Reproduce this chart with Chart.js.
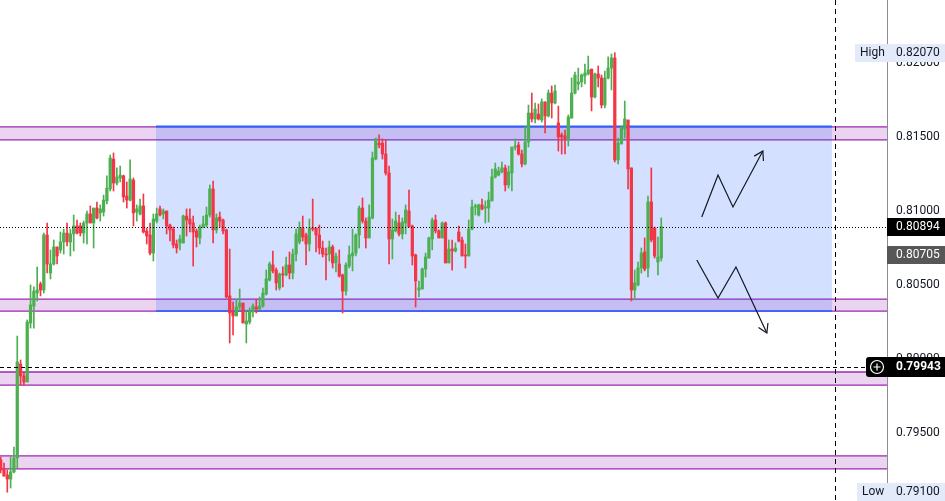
<!DOCTYPE html>
<html lang="en">
<head>
  <meta charset="UTF-8">
  <title>Price chart</title>
  <script src="https://cdn.jsdelivr.net/npm/chart.js"></script>
  <style>
    html, body {
      margin: 0;
      padding: 0;
      background: #fff;
    }
    #wrap {
      width: 945px;
      height: 501px;
      position: relative;
    }
  </style>
</head>
<body>

  <div id="wrap"><canvas id="priceChart"></canvas></div>

  <script>
    // candles (oldest first)
    const opens = [
      0.79318,0.79257,0.79216,0.79189,0.79237,0.79331,0.79966,0.79885,0.79845,0.80243,
      0.80358,0.80446,0.80507,0.80466,0.80838,0.80581,0.80642,0.80757,0.80737,0.80791,
      0.80851,0.80791,0.80845,0.80899,0.80899,0.80851,0.80919,0.80980,0.80919,0.81020,
      0.80987,0.80993,0.81068,0.81149,0.81351,0.81189,0.81223,0.81237,0.81101,0.81074,
      0.81209,0.80993,0.80980,0.81034,0.80865,0.80838,0.80716,0.80932,0.81014,0.80980,
      0.81000,0.80905,0.80878,0.80777,0.80784,0.80784,0.80966,0.80946,0.80919,0.80865,
      0.80818,0.80892,0.80905,0.80973,0.81149,0.80872,0.80959,0.80939,0.80872,0.80426,
      0.80318,0.80291,0.80351,0.80378,0.80236,0.80250,0.80318,0.80351,0.80338,0.80358,
      0.80439,0.80534,0.80635,0.80601,0.80480,0.80574,0.80568,0.80635,0.80581,0.80709,
      0.80791,0.80885,0.80838,0.80777,0.80885,0.80885,0.80838,0.80750,0.80709,0.80709,
      0.80757,0.80649,0.80642,0.80568,0.80459,0.80628,0.80696,0.80716,0.80838,0.81020,
      0.80932,0.80818,0.80953,0.81351,0.81459,0.81459,0.81385,0.81257,0.80811,0.80865,
      0.80919,0.80845,0.80919,0.81000,0.80899,0.80703,0.80466,0.80473,0.80608,0.80682,
      0.80811,0.80939,0.80865,0.80818,0.80919,0.80649,0.80743,0.80730,0.80858,0.80804,
      0.80703,0.80696,0.80878,0.81027,0.80973,0.81041,0.81020,0.81020,0.81068,0.81230,
      0.81243,0.81264,0.81291,0.81176,0.81257,0.81432,0.81446,0.81385,0.81318,0.81466,
      0.81662,0.81622,0.81655,0.81615,0.81737,0.81642,0.81797,0.81730,0.81595,0.81514,
      0.81507,0.81487,0.81628,0.81797,0.81858,0.81872,0.81912,0.81926,0.81959,0.81770,
      0.81926,0.81899,0.81716,0.81899,0.81966,0.82034,0.81345,0.81453,0.81554,0.81615,
      0.81291,0.80466,0.80500,0.80615,0.80723,0.80615,0.81061,0.80885,0.80655,0.80682
    ];
    const highs = [
      0.79338,0.79297,0.79250,0.79338,0.79405,0.80155,0.79993,0.79912,0.80264,0.80500,
      0.80487,0.80622,0.80520,0.80851,0.80919,0.80737,0.80804,0.80757,0.80858,0.80878,
      0.80919,0.80878,0.80973,0.80939,0.80919,0.80932,0.81000,0.81034,0.81020,0.81061,
      0.81041,0.81108,0.81237,0.81378,0.81392,0.81291,0.81304,0.81243,0.81196,0.81345,
      0.81223,0.81041,0.81081,0.81115,0.80885,0.80919,0.80980,0.81020,0.81034,0.81014,
      0.81000,0.80912,0.80892,0.80804,0.80838,0.80973,0.81014,0.81014,0.80966,0.80878,
      0.80905,0.80966,0.81027,0.81176,0.81203,0.80980,0.80993,0.80946,0.80878,0.80743,
      0.80385,0.80405,0.80473,0.80378,0.80331,0.80345,0.80372,0.80405,0.80419,0.80480,
      0.80601,0.80655,0.80730,0.80615,0.80581,0.80622,0.80689,0.80723,0.80743,0.80878,
      0.80926,0.80966,0.80851,0.80946,0.81081,0.80885,0.80905,0.80797,0.80750,0.80797,
      0.80770,0.80716,0.80737,0.80574,0.80649,0.80764,0.80878,0.80845,0.81034,0.81088,
      0.80953,0.81041,0.81399,0.81493,0.81514,0.81487,0.81480,0.81304,0.80946,0.80993,
      0.80973,0.80953,0.81041,0.81142,0.80905,0.80709,0.80527,0.80615,0.80716,0.80824,
      0.80953,0.80973,0.80872,0.80926,0.80926,0.80804,0.80804,0.80784,0.80899,0.80824,
      0.80777,0.80939,0.81074,0.81047,0.81047,0.81081,0.81068,0.81128,0.81284,0.81324,
      0.81297,0.81331,0.81311,0.81304,0.81432,0.81487,0.81466,0.81412,0.81568,0.81716,
      0.81797,0.81730,0.81723,0.81757,0.81737,0.81818,0.81845,0.81851,0.81709,0.81527,
      0.81547,0.81649,0.81899,0.81939,0.81966,0.81926,0.81993,0.82047,0.81959,0.81932,
      0.81980,0.81919,0.81946,0.82041,0.82061,0.82070,0.81493,0.81574,0.81743,0.81615,
      0.81291,0.80601,0.80655,0.80750,0.80818,0.81101,0.81291,0.80892,0.80824,0.80953
    ];
    const lows = [
      0.79230,0.79209,0.79100,0.79128,0.79230,0.79264,0.79824,0.79824,0.79845,0.80209,
      0.80209,0.80392,0.80426,0.80446,0.80581,0.80541,0.80635,0.80642,0.80716,0.80709,
      0.80764,0.80696,0.80730,0.80845,0.80831,0.80784,0.80777,0.80919,0.80750,0.80946,
      0.80932,0.80966,0.81047,0.81135,0.81135,0.81176,0.81196,0.81061,0.81020,0.81068,
      0.80899,0.80932,0.80973,0.80851,0.80777,0.80703,0.80662,0.80919,0.80966,0.80946,
      0.80845,0.80797,0.80750,0.80716,0.80737,0.80784,0.80831,0.80858,0.80628,0.80757,
      0.80777,0.80885,0.80892,0.80959,0.80784,0.80851,0.80892,0.80845,0.80412,0.80108,
      0.80162,0.80291,0.80324,0.80243,0.80108,0.80236,0.80284,0.80311,0.80331,0.80351,
      0.80432,0.80527,0.80581,0.80466,0.80466,0.80487,0.80561,0.80541,0.80541,0.80662,
      0.80777,0.80797,0.80635,0.80730,0.80865,0.80723,0.80709,0.80689,0.80534,0.80662,
      0.80615,0.80588,0.80554,0.80311,0.80432,0.80615,0.80595,0.80696,0.80750,0.80919,
      0.80750,0.80818,0.80946,0.81345,0.81426,0.81351,0.81243,0.80642,0.80676,0.80858,
      0.80831,0.80811,0.80845,0.80892,0.80635,0.80351,0.80419,0.80473,0.80554,0.80682,
      0.80737,0.80851,0.80818,0.80818,0.80649,0.80649,0.80601,0.80723,0.80791,0.80696,
      0.80615,0.80696,0.80872,0.80973,0.80966,0.81007,0.80919,0.80926,0.81068,0.81223,
      0.81237,0.81257,0.81135,0.81155,0.81135,0.81412,0.81378,0.81297,0.81311,0.81432,
      0.81601,0.81595,0.81615,0.81601,0.81527,0.81635,0.81628,0.81723,0.81405,0.81385,
      0.81385,0.81439,0.81628,0.81791,0.81818,0.81838,0.81858,0.81919,0.81676,0.81764,
      0.81838,0.81696,0.81696,0.81892,0.81818,0.81331,0.81318,0.81453,0.81493,0.81149,
      0.80392,0.80399,0.80493,0.80581,0.80595,0.80554,0.80791,0.80682,0.80568,0.80662
    ];
    const closes = [
      0.79250,0.79209,0.79189,0.79237,0.79331,0.79980,0.79885,0.79845,0.80250,0.80365,
      0.80459,0.80466,0.80466,0.80838,0.80642,0.80642,0.80757,0.80696,0.80791,0.80851,
      0.80791,0.80845,0.80899,0.80851,0.80851,0.80919,0.80980,0.80919,0.81020,0.80953,
      0.81014,0.81074,0.81155,0.81358,0.81189,0.81230,0.81243,0.81095,0.81074,0.81216,
      0.80987,0.81014,0.81034,0.80858,0.80831,0.80716,0.80946,0.80980,0.80973,0.81000,
      0.80899,0.80872,0.80770,0.80750,0.80811,0.80966,0.80939,0.80912,0.80858,0.80824,
      0.80892,0.80912,0.80973,0.81149,0.80872,0.80953,0.80932,0.80865,0.80419,0.80311,
      0.80291,0.80351,0.80378,0.80243,0.80257,0.80318,0.80358,0.80338,0.80358,0.80446,
      0.80541,0.80642,0.80595,0.80514,0.80574,0.80568,0.80635,0.80581,0.80709,0.80845,
      0.80885,0.80824,0.80777,0.80885,0.80878,0.80838,0.80750,0.80709,0.80703,0.80757,
      0.80649,0.80696,0.80561,0.80459,0.80635,0.80703,0.80716,0.80838,0.81020,0.80932,
      0.80818,0.80959,0.81358,0.81487,0.81446,0.81385,0.81257,0.80811,0.80872,0.80932,
      0.80845,0.80926,0.81007,0.80892,0.80696,0.80527,0.80480,0.80608,0.80689,0.80818,
      0.80939,0.80865,0.80818,0.80919,0.80649,0.80743,0.80730,0.80750,0.80797,0.80696,
      0.80696,0.80878,0.81027,0.81034,0.81041,0.81014,0.81027,0.81074,0.81230,0.81284,
      0.81270,0.81291,0.81176,0.81264,0.81432,0.81439,0.81385,0.81318,0.81466,0.81662,
      0.81622,0.81689,0.81622,0.81737,0.81642,0.81797,0.81730,0.81811,0.81500,0.81500,
      0.81487,0.81635,0.81797,0.81919,0.81872,0.81919,0.81932,0.81953,0.81770,0.81926,
      0.81899,0.81716,0.81899,0.81966,0.82034,0.81345,0.81459,0.81561,0.81622,0.81284,
      0.80466,0.80514,0.80615,0.80716,0.80608,0.81061,0.80804,0.80696,0.80689,0.80894
    ];

    const yTicks = [0.795, 0.800, 0.805, 0.810, 0.815, 0.820];

    // horizontal zones (price bands)
    const zoneLow  = [0.81480, 0.80324, 0.79824, 0.79257];
    const zoneHigh = [0.81568, 0.80405, 0.79912, 0.79345];

    // range rectangle: candle index span and price span
    const rangeX = [46.8, 250.4];
    const rangeY = [0.80324, 0.81568];

    const markPrice = 0.80705;
    const linePrice = 0.79943;
    const vLineAt = 251.3;

    // hand drawn zigzag arrows (candle index, price)
    const upPathX = [211.2, 216.1, 220.6, 229.6];
    const upPathY = [0.80959, 0.81243, 0.81027, 0.81405];
    const downPathX = [209.7, 216.1, 221.5, 230.8];
    const downPathY = [0.80669, 0.80412, 0.80622, 0.80176];

    const UP = '#4caf50';
    const DOWN = '#f23645';
    const colors = opens.map((o, i) => closes[i] >= o ? UP : DOWN);
    const lastClose = closes[closes.length - 1];
    const topHigh = Math.max(...highs);
    const bottomLow = Math.min(...lows);
    const FONT = '12px Roboto, "Liberation Sans", sans-serif';

    function hline(ctx, x1, x2, y, dash, color, w) {
      ctx.save();
      ctx.beginPath();
      ctx.setLineDash(dash);
      ctx.strokeStyle = color;
      ctx.lineWidth = w;
      ctx.moveTo(x1, y);
      ctx.lineTo(x2, y);
      ctx.stroke();
      ctx.restore();
    }

    function arrow(ctx, xs, ys, sx, sy) {
      const pts = xs.map((v, i) => [sx.getPixelForValue(v), sy.getPixelForValue(ys[i])]);
      ctx.beginPath();
      pts.forEach(([px, py], i) => i ? ctx.lineTo(px, py) : ctx.moveTo(px, py));
      ctx.stroke();
      const [ax, ay] = pts[pts.length - 2];
      const [bx, by] = pts[pts.length - 1];
      const ang = Math.atan2(by - ay, bx - ax);
      const len = 10;
      ctx.beginPath();
      ctx.moveTo(bx - len * Math.cos(ang - 0.55), by - len * Math.sin(ang - 0.55));
      ctx.lineTo(bx, by);
      ctx.lineTo(bx - len * Math.cos(ang + 0.55), by - len * Math.sin(ang + 0.55));
      ctx.stroke();
    }

    function tag(ctx, x0, x1, yc, h, bg) {
      ctx.fillStyle = bg;
      ctx.fillRect(x0, Math.round(yc - h / 2), x1 - x0, h);
    }

    const overlay = {
      id: 'overlay',
      beforeDatasetsDraw(chart) {
        const { ctx, chartArea: a, scales: { x, y } } = chart;
        ctx.save();
        zoneLow.forEach((lo, i) => {
          const t = y.getPixelForValue(zoneHigh[i]);
          const b = y.getPixelForValue(lo);
          ctx.fillStyle = 'rgba(156,39,176,0.2)';
          ctx.fillRect(a.left, t, a.right - a.left, b - t);
          hline(ctx, a.left, a.right, t, [], '#9c27b0', 1.3);
          hline(ctx, a.left, a.right, b, [], '#9c27b0', 1.3);
        });
        const rx0 = x.getPixelForValue(rangeX[0]);
        const rx1 = x.getPixelForValue(rangeX[1]);
        const rt = y.getPixelForValue(rangeY[1]);
        const rb = y.getPixelForValue(rangeY[0]);
        ctx.fillStyle = 'rgba(41,98,255,0.2)';
        ctx.fillRect(rx0, rt, rx1 - rx0, rb - rt);
        hline(ctx, rx0, rx1, rt - 0.5, [], '#2962ff', 2);
        hline(ctx, rx0, rx1, rb, [], '#2962ff', 1.5);
        ctx.restore();
      },
      afterDatasetsDraw(chart) {
        const { ctx, chartArea: a, scales: { x, y } } = chart;
        ctx.save();
        hline(ctx, a.left, a.right, Math.round(y.getPixelForValue(lastClose)) + 0.5, [1, 2], '#000', 1);
        hline(ctx, a.left, chart.width - 79, Math.round(y.getPixelForValue(linePrice)) + 0.5, [4, 3], '#000', 1);
        const vx = Math.round(x.getPixelForValue(vLineAt)) + 0.5;
        ctx.beginPath();
        ctx.setLineDash([5, 4]);
        ctx.strokeStyle = '#000';
        ctx.lineWidth = 1;
        ctx.moveTo(vx, a.top);
        ctx.lineTo(vx, a.bottom);
        ctx.stroke();
        ctx.setLineDash([]);
        ctx.strokeStyle = '#131722';
        ctx.lineWidth = 1.2;
        arrow(ctx, upPathX, upPathY, x, y);
        arrow(ctx, downPathX, downPathY, x, y);
        ctx.restore();
      },
      afterDraw(chart) {
        const { ctx, chartArea: a, scales: { y } } = chart;
        const W = chart.width;
        const tx = a.right + 9;
        ctx.save();
        ctx.font = FONT;
        ctx.textBaseline = 'middle';
        ctx.textAlign = 'left';

        // high / low
        const yh = y.getPixelForValue(topHigh);
        tag(ctx, W - 90, W, yh, 18, '#e3ebfb');
        ctx.fillStyle = '#131722';
        ctx.fillText('High', W - 85, yh);
        ctx.fillText(topHigh.toFixed(5), tx, yh);

        const yl = y.getPixelForValue(bottomLow);
        tag(ctx, W - 88, W, yl, 18, '#e3ebfb');
        ctx.fillStyle = '#131722';
        ctx.fillText('Low', W - 83, yl);
        ctx.fillText(bottomLow.toFixed(5), tx, yl);

        // last price
        const yc = y.getPixelForValue(lastClose);
        tag(ctx, a.right, W, yc, 18, '#000');
        ctx.fillStyle = '#fff';
        ctx.fillText(lastClose.toFixed(5), tx, yc);

        const ym = y.getPixelForValue(markPrice);
        tag(ctx, a.right, W, ym, 18, '#575757');
        ctx.fillStyle = '#fff';
        ctx.fillText(markPrice.toFixed(5), tx, ym);

        // horizontal line label with plus icon
        const yp = Math.round(y.getPixelForValue(linePrice));
        const x0 = W - 79, top = yp - 10, h = 20, r = 3;
        ctx.fillStyle = '#000';
        ctx.beginPath();
        ctx.moveTo(x0 + r, top);
        ctx.lineTo(W, top);
        ctx.lineTo(W, top + h);
        ctx.lineTo(x0 + r, top + h);
        ctx.quadraticCurveTo(x0, top + h, x0, top + h - r);
        ctx.lineTo(x0, top + r);
        ctx.quadraticCurveTo(x0, top, x0 + r, top);
        ctx.fill();
        ctx.strokeStyle = '#fff';
        ctx.lineWidth = 1.2;
        ctx.beginPath();
        ctx.arc(x0 + 11, yp, 6.5, 0, Math.PI * 2);
        ctx.stroke();
        ctx.beginPath();
        ctx.moveTo(x0 + 7.5, yp);
        ctx.lineTo(x0 + 14.5, yp);
        ctx.moveTo(x0 + 11, yp - 3.5);
        ctx.lineTo(x0 + 11, yp + 3.5);
        ctx.stroke();
        ctx.fillStyle = '#fff';
        ctx.font = 'bold ' + FONT;
        ctx.fillText(linePrice.toFixed(5), tx, yp);
        ctx.restore();
      }
    };

    const ctx = document.getElementById('priceChart').getContext('2d');
    new Chart(ctx, {
      type: 'bar',
      data: {
        datasets: [
          {
            label: 'body',
            data: opens.map((o, i) => ({ x: i, y: [o, closes[i]] })),
            backgroundColor: colors,
            borderWidth: 0,
            barThickness: 2.6,
            minBarLength: 1,
            grouped: false,
            order: 0
          },
          {
            label: 'wick',
            data: lows.map((l, i) => ({ x: i, y: [l, highs[i]] })),
            backgroundColor: colors,
            borderWidth: 0,
            barThickness: 1,
            grouped: false,
            order: 1
          }
        ]
      },
      options: {
        responsive: true,
        maintainAspectRatio: false,
        animation: false,
        events: [],
        layout: { padding: 0 },
        plugins: {
          legend: { display: false },
          tooltip: { enabled: false }
        },
        scales: {
          x: {
            type: 'linear',
            display: false,
            min: -0.2,
            max: 267,
            offset: false
          },
          y: {
            position: 'right',
            min: 0.790405,
            max: 0.824257,
            grid: { display: false, drawTicks: false },
            border: { display: true, color: '#8b8e96', width: 1 },
            afterBuildTicks: s => { s.ticks = yTicks.map(v => ({ value: v })); },
            afterFit: s => { s.width = 58; s.paddingTop = 0; s.paddingBottom = 0; },
            ticks: {
              padding: 9,
              color: '#131722',
              font: { family: 'Roboto, "Liberation Sans", sans-serif', size: 12 },
              callback: v => Number(v).toFixed(5)
            }
          }
        }
      },
      plugins: [overlay]
    });
  </script>

</body>
</html>
